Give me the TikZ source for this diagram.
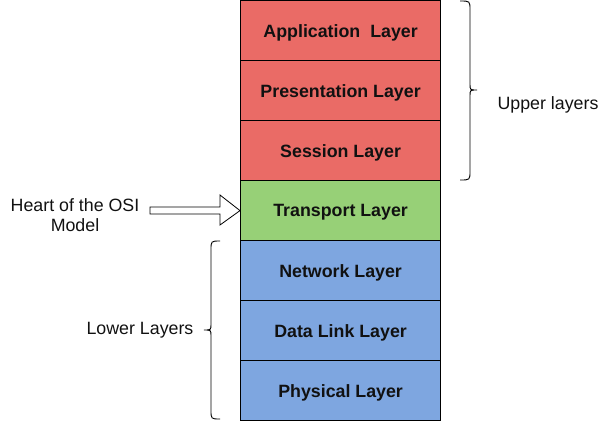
\documentclass[tikz,border=0pt]{standalone}
\usepackage{fontspec}
\setmainfont{Liberation Sans}
\definecolor{upred}{HTML}{EA6B66}
\definecolor{midgreen}{HTML}{97D077}
\definecolor{lowblue}{HTML}{7EA6E0}
\definecolor{txt}{HTML}{111111}
\begin{document}
\begin{tikzpicture}[x=1pt,y=-1pt,
  layerbox/.style={draw=black,line width=1.2pt,minimum width=200pt,minimum height=60pt,inner sep=0pt,anchor=north west,font=\fontsize{17.8}{20}\selectfont\bfseries,text=txt,text depth=-0.3pt},
  plain/.style={font=\fontsize{17.8}{20}\selectfont,text=txt,align=center},
  bracestyle/.style={draw=black,line width=0.9pt}]
\useasboundingbox (0,0) rectangle (611,421);
\node[layerbox,fill=upred] (app) at (240,0) {Application\ \ Layer};
\node[layerbox,fill=upred] (pres) at (240,60) {Presentation Layer};
\node[layerbox,fill=upred] (sess) at (240,120) {Session Layer};
\node[layerbox,fill=midgreen] (trans) at (240,180) {Transport Layer};
\node[layerbox,fill=lowblue] (net) at (240,240) {Network Layer};
\node[layerbox,fill=lowblue] (dl) at (240,300) {Data Link Layer};
\node[layerbox,fill=lowblue] (phys) at (240,360) {Physical Layer};
% right brace
\draw[bracestyle] (460,1) .. controls (470,1) .. (470,10) -- (470,84) .. controls (470,90) .. (477,90)
  .. controls (470,90) .. (470,96) -- (470,171) .. controls (470,180) .. (460,180);
\node[plain] (upper) at (548,104.5) {Upper layers};
% left brace
\draw[bracestyle] (220,241) .. controls (211,241) .. (211,250) -- (211,324) .. controls (211,330) .. (204,330)
  .. controls (211,330) .. (211,336) -- (211,410) .. controls (211,419) .. (220,419);
\node[plain] (lower) at (140,330.5) {Lower Layers};
% heart
\node[plain] (heart) at (75,215) {Heart of the OSI\\Model};
\coordinate (tip) at (trans.west);
\draw[black,line width=0.8pt,fill=white] (150,207) -- (220,207) -- (220,195) -- (tip) -- (220,225) -- (220,214) -- (150,214) -- cycle;
\end{tikzpicture}
\end{document}
